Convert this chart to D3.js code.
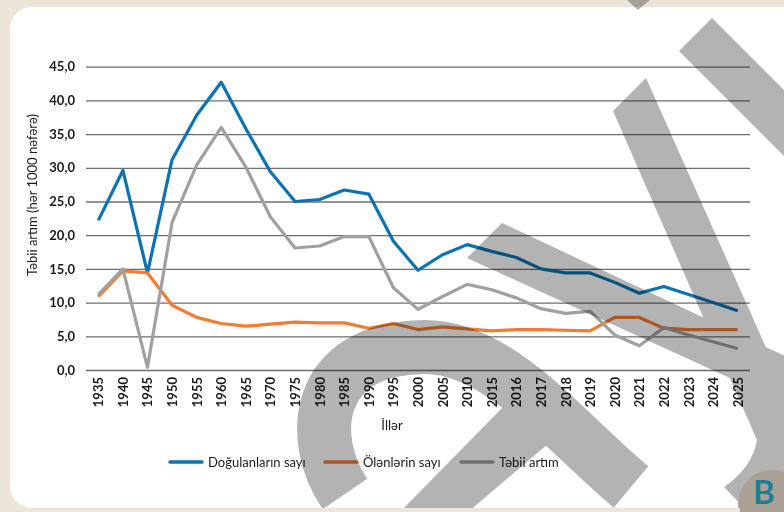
<!DOCTYPE html>
<html>
<head>
<meta charset="utf-8">
<script src="https://cdn.jsdelivr.net/npm/d3@7"></script>
<style>
  html, body { margin: 0; padding: 0; background: #ede5d8; }
  #chart { width: 784px; height: 512px; }
  text { font-family: Lato, "Liberation Sans", sans-serif; }
</style>
</head>
<body>
<div id="chart"></div>
<script>
// Years on the x axis (5-year steps, then yearly)
const years = ["1935", "1940", "1945", "1950", "1955", "1960", "1965", "1970", "1975", "1980",
    "1985", "1990", "1995", "2000", "2005", "2010", "2015", "2016", "2017", "2018",
    "2019", "2020", "2021", "2022", "2023", "2024", "2025"];

// per 1000 people
const births = [22.2, 29.6, 14.4, 31.2, 37.8, 42.7, 35.8, 29.4, 25.0, 25.3,
    26.7, 26.1, 19.1, 14.8, 17.1, 18.6, 17.6, 16.7, 15.0, 14.4,
    14.4, 13.0, 11.4, 12.4, 11.2, 10.0, 8.8];
const deaths = [10.9, 14.7, 14.4, 9.6, 7.8, 6.9, 6.5, 6.8, 7.1, 7.0,
    7.0, 6.2, 6.9, 6.0, 6.4, 6.1, 5.8, 6.0, 6.0, 5.9,
    5.8, 7.8, 7.8, 6.2, 6.0, 6.0, 6.0];
const natural = [11.2, 15.0, 0.4, 21.9, 30.4, 36.0, 30.1, 22.7, 18.1, 18.4,
    19.8, 19.8, 12.2, 9.0, 10.9, 12.7, 11.9, 10.7, 9.1, 8.4,
    8.7, 5.2, 3.6, 6.3, 5.2, 4.2, 3.2];

const yTicks = [0, 5, 10, 15, 20, 25, 30, 35, 40, 45];

const seriesNames = ["Doğulanların sayı", "Ölənlərin sayı", "Təbii artım"];
const seriesColors = ["#0b72b4", "#f47b2f", "#a0a0a0"];

const width = 784, height = 512;
const plot = { left: 86, right: 750, top: 66.7, bottom: 370 };

const svg = d3.select("#chart")
    .append("svg")
    .attr("width", width)
    .attr("height", height);

// Frame
svg.append("rect")
    .attr("width", width).attr("height", height)
    .attr("fill", "#ede5d8");

svg.append("rect")
    .attr("x", 10).attr("y", 7)
    .attr("width", 800).attr("height", 501)
    .attr("rx", 22)
    .attr("fill", "#ffffff");

svg.append("clipPath").attr("id", "panel")
    .append("rect")
    .attr("x", 10).attr("y", 7)
    .attr("width", 800).attr("height", 501)
    .attr("rx", 22);

// Scales
const x = d3.scaleBand()
    .domain(years)
    .range([plot.left, plot.right]);

const y = d3.scaleLinear()
    .domain([0, 45])
    .range([plot.bottom, plot.top]);

// Y axis with gridlines
const yAxis = svg.append("g")
    .attr("transform", `translate(${plot.left},0)`)
    .call(d3.axisLeft(y)
        .tickValues(yTicks)
        .tickSize(-(plot.right - plot.left))
        .tickPadding(11)
        .tickFormat(d => d.toFixed(1).replace(".", ",")));
yAxis.select(".domain").remove();
yAxis.selectAll(".tick line")
    .attr("stroke", "#6e6e6e")
    .attr("stroke-width", 1.3);
yAxis.selectAll(".tick text")
    .attr("fill", "#1a1a1a")
    .style("font-size", "13px")
    .style("font-weight", "bold");

// X axis
const xAxis = svg.append("g")
    .attr("transform", `translate(0,${plot.bottom})`)
    .call(d3.axisBottom(x).tickSize(0));
xAxis.select(".domain").remove();
xAxis.selectAll(".tick text")
    .attr("fill", "#1a1a1a")
    .attr("text-anchor", "end")
    .attr("transform", "translate(5,7) rotate(-90)")
    .attr("x", 0).attr("y", 0)
    .attr("dy", null)
    .style("font-size", "13px")
    .style("font-weight", "bold");

// Axis titles
svg.append("text")
    .attr("transform", "translate(37,195) rotate(-90)")
    .attr("text-anchor", "middle")
    .attr("fill", "#1a1a1a")
    .style("font-size", "13px")
    .text("Təbii artım (hər 1000 nəfərə)");

svg.append("text")
    .attr("x", 392).attr("y", 430)
    .attr("text-anchor", "middle")
    .attr("fill", "#1a1a1a")
    .style("font-size", "13px")
    .text("İllər");

// Lines
const line = d3.line()
    .x((d, i) => x(years[i]) + x.bandwidth() / 2)
    .y(d => y(d));

[births, deaths, natural].forEach((s, i) => {
    svg.append("path")
        .datum(s)
        .attr("fill", "none")
        .attr("stroke", seriesColors[i])
        .attr("stroke-width", 3.2)
        .attr("stroke-linejoin", "round")
        .attr("d", line);
});

// Legend
const legendX = [170, 325, 461];
const legend = svg.append("g");
seriesNames.forEach((name, i) => {
    legend.append("line")
        .attr("x1", legendX[i]).attr("x2", legendX[i] + 32)
        .attr("y1", 462).attr("y2", 462)
        .attr("stroke", seriesColors[i])
        .attr("stroke-width", 3.5)
        .attr("stroke-linecap", "round");
    legend.append("text")
        .attr("x", legendX[i] + 38).attr("y", 466.5)
        .attr("fill", "#1a1a1a")
        .style("font-size", "13px")
        .text(name);
});

// Watermark (big grey letter strokes laid over the chart)
const mark = svg.append("g")
    .style("mix-blend-mode", "multiply")
    .attr("fill", "#b3b3b3");

mark.append("path").attr("d", "M627,0 L650,0 L638,10 Z");

const inner = mark.append("g").attr("clip-path", "url(#panel)");
inner.append("path").attr("d", "M712,18 L800,106 L800,172 L679,51 Z");
inner.append("path").attr("d", "M646,78 L800,424 L800,512 L748,512 L724,487 Q752,468 757,440 L613,111 Z");
inner.append("path").attr("d", "M502,223 L800,363 L800,410 L467,258 Z");
inner.append("path").attr("d", "M400,512 L468,512 L562,432 L505,405 Z");
inner.append("path")
    .attr("fill", "none")
    .attr("stroke", "#b3b3b3")
    .attr("stroke-width", 54)
    .attr("d", "M345,494 C308,440 312,348 425,347 C500,347 565,432 631,487");

// Logo badge
svg.append("circle")
    .attr("cx", 772).attr("cy", 504).attr("r", 34)
    .attr("fill", "#aaa096");
svg.append("text")
    .attr("x", 764).attr("y", 504)
    .attr("text-anchor", "middle")
    .attr("fill", "#1f7e96")
    .style("font-size", "33px")
    .style("font-weight", "bold")
    .text("B");

svg.append("rect")
    .attr("x", 0).attr("y", 508)
    .attr("width", 740).attr("height", 4)
    .attr("fill", "#ede5d8");
</script>
</body>
</html>
